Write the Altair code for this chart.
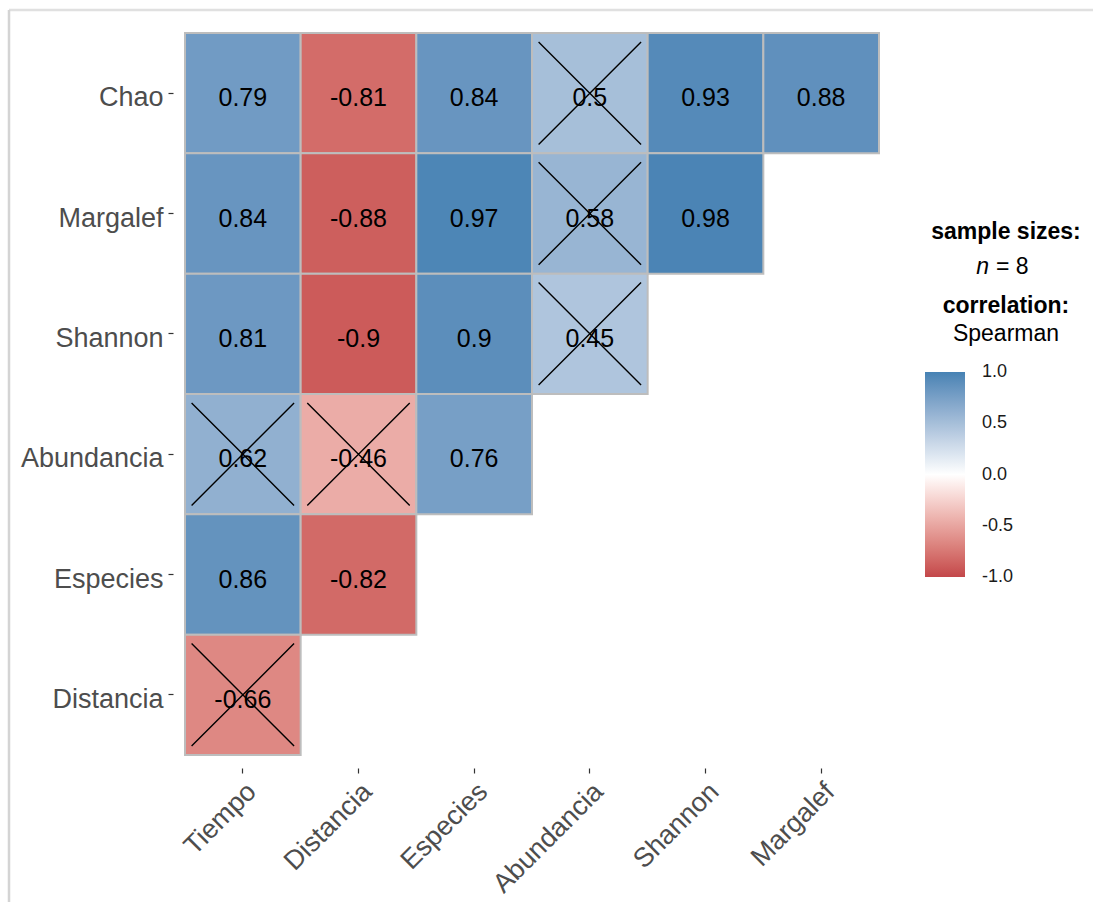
import altair as alt
import pandas as pd

# Variables along each axis (rows listed top to bottom)
columns = ["Tiempo", "Distancia", "Especies", "Abundancia", "Shannon", "Margalef"]
rows = ["Chao", "Margalef", "Shannon", "Abundancia", "Especies", "Distancia"]

# Spearman coefficients for each row, in column order (lower triangle only)
chao_r = [0.79, -0.81, 0.84, 0.5, 0.93, 0.88]
margalef_r = [0.84, -0.88, 0.97, 0.58, 0.98]
shannon_r = [0.81, -0.9, 0.9, 0.45]
abundancia_r = [0.62, -0.46, 0.76]
especies_r = [0.86, -0.82]
distancia_r = [-0.66]

# Whether each coefficient is significant (False -> crossed out)
chao_sig = [True, True, True, False, True, True]
margalef_sig = [True, True, True, False, True]
shannon_sig = [True, True, True, False]
abundancia_sig = [False, False, True]
especies_sig = [True, True]
distancia_sig = [False]

# Colour bar tick values and their printed labels
legend_ticks = [1.0, 0.5, 0.0, -0.5, -1.0]
legend_tick_labels = ["1.0", "0.5", "0.0", "-0.5", "-1.0"]

row_values = [chao_r, margalef_r, shannon_r, abundancia_r, especies_r, distancia_r]
row_sig = [chao_sig, margalef_sig, shannon_sig, abundancia_sig, especies_sig, distancia_sig]

records = []
for name, vals, sigs in zip(rows, row_values, row_sig):
    for col, v, s in zip(columns, vals, sigs):
        records.append({"row": name, "col": col, "r": v, "label": str(v), "sig": s})
df = pd.DataFrame(records)

FONT = "Liberation Sans"
W, H = 694, 722

x_enc = alt.X("col:N", scale=alt.Scale(domain=columns, paddingInner=0, paddingOuter=0),
              axis=alt.Axis(title=None, labelAngle=-45, labelAlign="right", labelBaseline="top",
                            labelFontSize=27, labelColor="#4D4D4D", labelFont=FONT,
                            tickColor="#333333", tickSize=5, tickWidth=1.2, domain=False,
                            offset=13, labelPadding=5))
y_enc = alt.Y("row:N", scale=alt.Scale(domain=rows, paddingInner=0, paddingOuter=0),
              axis=alt.Axis(title=None, labelFontSize=27, labelColor="#4D4D4D", labelFont=FONT,
                            tickColor="#333333", tickSize=5, tickWidth=1.2, domain=False,
                            offset=12, labelPadding=5, labelOffset=5))

tiles = alt.Chart(df).mark_rect(stroke="#BDBDBD", strokeWidth=2).encode(
    x=x_enc,
    y=y_enc,
    color=alt.Color(
        "r:Q",
        scale=alt.Scale(domain=[-1, 0, 1], range=["#C3474A", "#FFFFFF", "#4682B4"], interpolate="lab"),
        legend=alt.Legend(
            title=None, orient="none", legendX=740, legendY=339,
            direction="vertical", gradientLength=205, gradientThickness=40,
            gradientStrokeWidth=0, values=legend_ticks, labelExpr="''",
            labelFontSize=1, labelOffset=16, padding=0,
        ),
    ),
)

labels = alt.Chart(df).mark_text(fontSize=25, font=FONT, color="#000000", dy=5).encode(
    x=alt.X("col:N", scale=alt.Scale(domain=columns)),
    y=alt.Y("row:N", scale=alt.Scale(domain=rows)),
    text="label:N",
)

crosses = alt.Chart(df).transform_filter("!datum.sig").mark_point(
    shape="M-1,-1L1,1M-1,1L1,-1", size=10500, filled=False, stroke="#000000", strokeWidth=1.4, opacity=1
).encode(
    x=alt.X("col:N", scale=alt.Scale(domain=columns)),
    y=alt.Y("row:N", scale=alt.Scale(domain=rows)),
)

# Colour bar tick labels and tick marks, on their own linear scale beside the gradient
tick_df = pd.DataFrame({"v": legend_ticks, "t": legend_tick_labels})
bar_scale = alt.Scale(domain=[-1, 1], range=[544, 339])
label_scale = alt.Scale(domain=[-1, 1], range=[551, 347])
bar_labels = alt.Chart(tick_df).mark_text(
    fontSize=18, font=FONT, color="#1A1A1A", align="left", baseline="middle"
).encode(
    x=alt.value(797),
    y=alt.Y("v:Q", scale=label_scale, axis=None),
    text="t:N",
)
bar_ticks_left = alt.Chart(tick_df).mark_rule(color="#FFFFFF", strokeWidth=1.5).encode(
    x=alt.value(740), x2=alt.value(747),
    y=alt.Y("v:Q", scale=bar_scale, axis=None),
)
bar_ticks_right = alt.Chart(tick_df).mark_rule(color="#FFFFFF", strokeWidth=1.5).encode(
    x=alt.value(773), x2=alt.value(780),
    y=alt.Y("v:Q", scale=bar_scale, axis=None),
)

# Legend heading: sample size and correlation method
bold_head = pd.DataFrame({"txt": ["sample sizes:", "correlation:"], "dy": [206, 280]})
plain_head = pd.DataFrame({"txt": ["Spearman"], "dy": [308]})
heading_bold = alt.Chart(bold_head).mark_text(
    fontSize=23, font=FONT, fontWeight="bold", color="#000000", align="center", baseline="alphabetic"
).encode(x=alt.value(821), y=alt.Y("dy:Q", scale=None), text="txt:N")
heading_plain = alt.Chart(plain_head).mark_text(
    fontSize=23, font=FONT, color="#000000", align="center", baseline="alphabetic"
).encode(x=alt.value(821), y=alt.Y("dy:Q", scale=None), text="txt:N")
n_italic = alt.Chart(pd.DataFrame({"t": ["n"]})).mark_text(
    fontSize=23, font=FONT, fontStyle="italic", align="right", baseline="alphabetic", color="#000000"
).encode(x=alt.value(804), y=alt.value(241), text="t:N")
n_value = alt.Chart(pd.DataFrame({"t": ["= 8"]})).mark_text(
    fontSize=23, font=FONT, align="left", baseline="alphabetic", color="#000000"
).encode(x=alt.value(811), y=alt.value(241), text="t:N")

# Light frame along the top and left edges
frame_top = alt.Chart(pd.DataFrame({"a": [0]})).mark_rule(color="#E0E0E0", strokeWidth=2.5).encode(
    x=alt.value(-176), x2=alt.value(914), y=alt.value(-23))
frame_left = alt.Chart(pd.DataFrame({"a": [0]})).mark_rule(color="#D4D4D4", strokeWidth=2.5).encode(
    x=alt.value(-176), y=alt.value(-23), y2=alt.value(869))

grid = alt.layer(frame_top, frame_left, tiles, labels, crosses, heading_bold, heading_plain, n_italic, n_value)
colorbar = alt.layer(bar_ticks_left, bar_ticks_right, bar_labels)

chart = alt.layer(grid, colorbar).resolve_scale(y="independent").properties(
    width=W, height=H,
    padding={"left": 185, "top": 33, "right": 214, "bottom": 147},
    autosize=alt.AutoSizeParams(type="none"),
    background="#FFFFFF",
).configure_view(stroke=None)

chart.save("out.html", embed_options={"renderer": "svg", "actions": False})
